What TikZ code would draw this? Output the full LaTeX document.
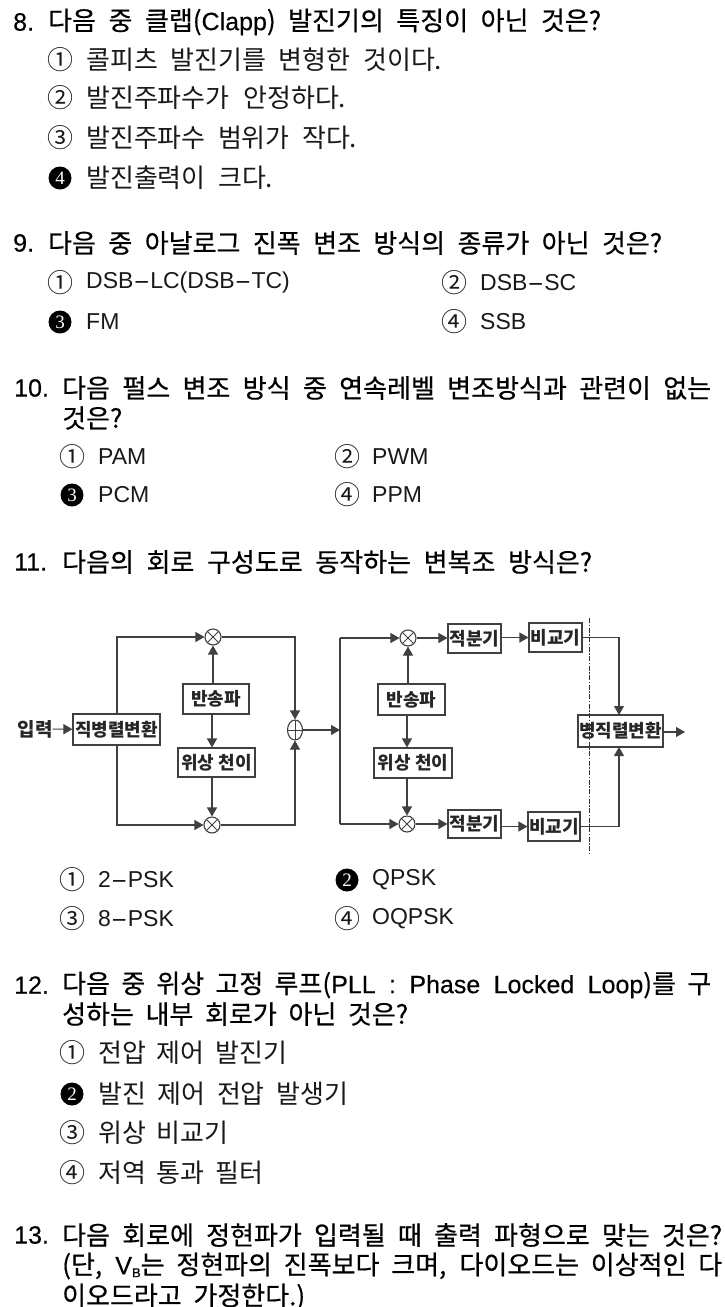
\documentclass[tikz,border=0pt]{standalone}
\usepackage{fontspec}
\usepackage{graphicx}
\setmainfont{Noto Sans CJK KR}
\newfontfamily\qfont[FakeBold=0.5]{Noto Sans CJK KR}
\newfontfamily\latq[FakeBold=0.3]{Liberation Sans}
\newfontfamily\lato{Liberation Sans}
\newfontfamily\numserif{Liberation Serif}
\newcommand{\qlat}[1]{{\fontsize{25}{25}\selectfont\latq #1}}
\newcommand{\olat}[1]{{\fontsize{23}{23}\selectfont\lato #1}}
\newcommand{\widehy}{\scalebox{2.2}[1]{-}}
\newcommand{\fitw}[2]{\makebox[#1pt][s]{#2}}
\usetikzlibrary{arrows.meta,shapes.geometric}
\tikzset{
 x=1pt,y=-1pt,
 qline/.style={anchor=west,inner sep=0pt,font=\fontsize{26}{26}\selectfont\qfont,text=black},
 optline/.style={anchor=west,inner sep=0pt,font=\fontsize{26}{26}\selectfont,text=black!90},
 circnum/.style={inner sep=0pt,font=\fontsize{26}{26}\selectfont,text=black!90},
 blackdot/.style={circle,fill=black,inner sep=0pt,minimum size=23pt,text=white,font=\fontsize{19}{19}\selectfont\numserif},
 block/.style={draw=black!75,line width=1.1pt,inner sep=0pt,font=\fontsize{18}{18}\selectfont\bfseries,text=black!85},
 inlabel/.style={inner sep=0pt,font=\fontsize{19}{19}\selectfont\bfseries,text=black!85},
 wire/.style={draw=black!75,line width=1.1pt},
 arrowed/.style={wire,-{Triangle[length=9pt,width=10pt]}},
 mult/.style={draw=black!75,line width=1.1pt,circle,minimum size=16pt,inner sep=0pt,path picture={
   \draw[black!75,line width=0.8pt] (path picture bounding box.north west)--(path picture bounding box.south east)
     (path picture bounding box.north east)--(path picture bounding box.south west);}},
 addr/.style={draw=black!75,line width=1.1pt,ellipse,minimum width=15pt,minimum height=20pt,inner sep=0pt,path picture={
   \draw[black!75,line width=0.8pt] (path picture bounding box.north)--(path picture bounding box.south)
     (path picture bounding box.west)--(path picture bounding box.east);}},
}
\newcommand{\boxat}[6]{\node[block,minimum width=#4pt-#2pt,minimum height=#5pt-#3pt] (#1) at ({(#2+#4)/2},{(#3+#5)/2}) {#6};}
\begin{document}
\begin{tikzpicture}
\useasboundingbox[fill=white] (0,0) rectangle (725,1307);
% question 8
\node[qline] (n8) at (13,22) {\qlat{8.}};
\node[qline] (q8) at (48,22) {\fitw{553}{다음 중 클랩(\qlat{Clapp}) 발진기의 특징이 아닌 것은?}};
\node[circnum] (c81) at (60,60) {①};
\node[optline] (o81) at (86,60) {\fitw{356}{콜피츠 발진기를 변형한 것이다.}};
\node[circnum] (c82) at (60,98) {②};
\node[optline] (o82) at (86,98) {\fitw{260}{발진주파수가 안정하다.}};
\node[circnum] (c83) at (60,138) {③};
\node[optline] (o83) at (86,138) {\fitw{271}{발진주파수 범위가 작다.}};
\node[blackdot] (c84) at (60,178) {4};
\node[optline] (o84) at (86,178) {\fitw{187}{발진출력이 크다.}};
% question 9
\node[qline] (n9) at (13,243) {\qlat{9.}};
\node[qline] (q9) at (48,243) {\fitw{614}{다음 중 아날로그 진폭 변조 방식의 종류가 아닌 것은?}};
\node[circnum] (c91) at (60,283) {①};
\node[optline] (o91) at (86,283) {\olat{DSB\widehy LC(DSB\widehy TC)}};
\node[circnum] (c92) at (454,283) {②};
\node[optline] (o92) at (480,283) {\olat{DSB\widehy SC}};
\node[blackdot] (c93) at (60,322) {3};
\node[optline] (o93) at (86,322) {\olat{FM}};
\node[circnum] (c94) at (454,322) {④};
\node[optline] (o94) at (480,322) {\olat{SSB}};
% question 10
\node[qline] (n10) at (14,388) {\qlat{10.}};
\node[qline] (q10) at (62,388) {\fitw{649}{다음 펄스 변조 방식 중 연속레벨 변조방식과 관련이 없는}};
\node[qline] (q10b) at (62,418) {것은?};
\node[circnum] (c101) at (72,457) {①};
\node[optline] (o101) at (98,457) {\olat{PAM}};
\node[circnum] (c102) at (347,457) {②};
\node[optline] (o102) at (372,457) {\olat{PWM}};
\node[blackdot] (c103) at (72,495) {3};
\node[optline] (o103) at (98,495) {\olat{PCM}};
\node[circnum] (c104) at (347,495) {④};
\node[optline] (o104) at (372,495) {\olat{PPM}};
% question 11
\node[qline] (n11) at (14,562) {\qlat{11.}};
\node[qline] (q11) at (62,562) {\fitw{530}{다음의 회로 구성도로 동작하는 변복조 방식은?}};
\node[circnum] (c111) at (72,880) {①};
\node[optline] (o111) at (98,880) {\olat{2\widehy PSK}};
\node[blackdot] (c112) at (347,880) {2};
\node[optline] (o112) at (372,880) {\olat{QPSK}};
\node[circnum] (c113) at (72,919) {③};
\node[optline] (o113) at (98,919) {\olat{8\widehy PSK}};
\node[circnum] (c114) at (347,919) {④};
\node[optline] (o114) at (372,919) {\olat{OQPSK}};
% question 12
\node[qline] (n12) at (14,985) {\qlat{12.}};
\node[qline] (q12) at (62,985) {\fitw{649}{다음 중 위상 고정 루프(\qlat{PLL : Phase Locked Loop})를 구}};
\node[qline] (q12b) at (62,1014) {\fitw{346}{성하는 내부 회로가 아닌 것은?}};
\node[circnum] (c121) at (72,1053) {①};
\node[optline] (o121) at (98,1053) {\fitw{189}{전압 제어 발진기}};
\node[blackdot] (c122) at (72,1094) {2};
\node[optline] (o122) at (98,1094) {\fitw{250}{발진 제어 전압 발생기}};
\node[circnum] (c123) at (72,1133) {③};
\node[optline] (o123) at (98,1133) {\fitw{130}{위상 비교기}};
\node[circnum] (c124) at (72,1173) {④};
\node[optline] (o124) at (98,1173) {\fitw{165}{저역 통과 필터}};
% question 13
\node[qline] (n13) at (14,1235) {\qlat{13.}};
\node[qline] (q13) at (62,1235) {\fitw{660}{다음 회로에 정현파가 입력될 때 출력 파형으로 맞는 것은?}};
\node[qline] (q13b) at (62,1266) {\fitw{660}{(단, \qlat{V}{\fontsize{13}{13}\selectfont\latq\raisebox{-3pt}{B}}는 정현파의 진폭보다 크며, 다이오드는 이상적인 다}};
\node[qline] (q13c) at (62,1297) {\fitw{243}{이오드라고 가정한다.)}};
% left block diagram
\node[inlabel] (in) at (35,729) {입력};
\boxat{sp}{73}{714}{160}{745}{직병렬변환}
\boxat{c1}{183}{684}{249}{714}{반송파}
\boxat{ph1}{178}{748}{255}{777}{위상 천이}
\node[mult] (m1) at (213,637) {};
\node[mult] (m2) at (212,825) {};
\node[addr] (ad) at (295,730) {};
\coordinate (spt) at (117,714); \coordinate (spb) at (117,745);
\draw[arrowed] (in) -- (sp);
\draw[arrowed] (spt) |- (m1);
\draw[arrowed] (spb) |- (m2);
\draw[arrowed] (c1.north-|m1) -- (m1);
\draw[arrowed] (c1.south-|m2) -- (ph1.north-|m2);
\draw[arrowed] (ph1.south-|m2) -- (m2);
\draw[arrowed] (m1) -| (ad);
\draw[arrowed] (m2) -| (ad);
% right block diagram
\coordinate (rj) at (340,730);
\draw[arrowed] (ad) -- (rj);
\node[mult] (m3) at (408,638) {};
\node[mult] (m4) at (407,824) {};
\boxat{c2}{378}{684}{445}{715}{반송파}
\boxat{ph2}{374}{748}{452}{778}{위상 천이}
\boxat{i1}{448}{624}{501}{653}{적분기}
\boxat{k1}{529}{623}{582}{652}{비교기}
\boxat{i2}{448}{810}{501}{838}{적분기}
\boxat{k2}{528}{812}{580}{841}{비교기}
\boxat{ps}{578}{715}{663}{747}{병직렬변환}
\coordinate (out) at (685,732);
\coordinate (dt) at (589,618); \coordinate (db) at (589,853);
\coordinate (rt) at (340,638); \coordinate (rb) at (340,824);
\draw[wire] (rt) -- (rb);
\draw[arrowed] (rt) -- (m3);
\draw[arrowed] (rb) -- (m4);
\draw[arrowed] (c2.north-|m3) -- (m3);
\draw[arrowed] (c2.south-|m4) -- (ph2.north-|m4);
\draw[arrowed] (ph2.south-|m4) -- (m4);
\draw[arrowed] (m3) -- (i1.west|-m3);
\draw[arrowed] (m4) -- (i2.west|-m4);
\draw[arrowed] (i1.east|-k1) -- (k1);
\draw[arrowed] (i2.east|-k2) -- (k2);
\coordinate (pst) at (619,715); \coordinate (psb) at (619,747);
\draw[arrowed] (k1) -| (pst);
\draw[arrowed] (k2) -| (psb);
\draw[arrowed] (ps.east|-out) -- (out);
\draw[black!80,line width=0.9pt,dash pattern=on 5pt off 1.5pt on 1.5pt off 1.5pt] (dt) -- (db);
\end{tikzpicture}
\end{document}
